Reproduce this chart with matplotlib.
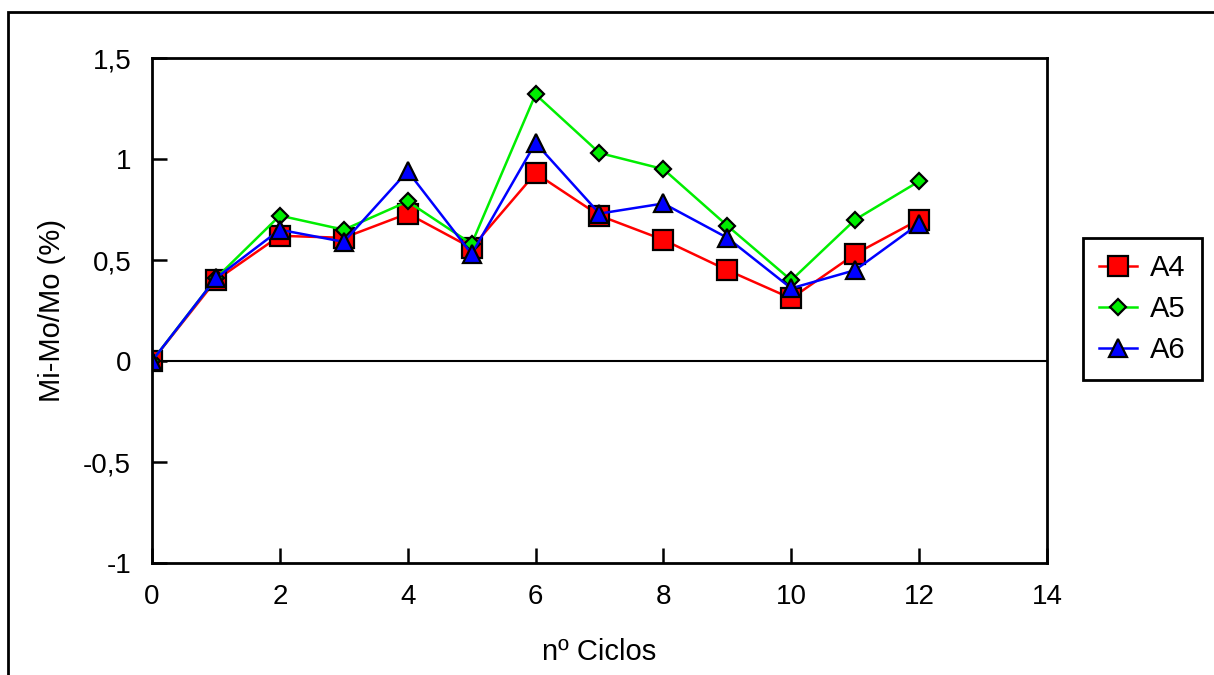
import matplotlib
matplotlib.use("Agg")
import matplotlib.pyplot as plt
from matplotlib.patches import Rectangle

plt.rcParams['font.family'] = ['Liberation Sans', 'DejaVu Sans']

ciclos = [0, 1, 2, 3, 4, 5, 6, 7, 8, 9, 10, 11, 12]
a4 = [0.0, 0.40, 0.62, 0.61, 0.73, 0.56, 0.93, 0.72, 0.60, 0.45, 0.31, 0.53, 0.70]
a5 = [0.0, 0.41, 0.72, 0.65, 0.79, 0.58, 1.32, 1.03, 0.95, 0.67, 0.40, 0.70, 0.89]
a6 = [0.0, 0.41, 0.65, 0.59, 0.94, 0.53, 1.08, 0.73, 0.78, 0.61, 0.36, 0.45, 0.68]

xticks = [0, 2, 4, 6, 8, 10, 12, 14]
yticks = [-1, -0.5, 0, 0.5, 1, 1.5]
ylabels = ['-1', '-0,5', '0', '0,5', '1', '1,5']

fig = plt.figure(figsize=(12.14, 6.75), dpi=100)
ax = fig.add_axes([0.1252, 0.1659, 0.7372, 0.7481])

# outer frame of the original sheet
fig.patches.append(Rectangle((8 / 1214, -0.1), 1.2, 1 - 12 / 675 + 0.1,
                             transform=fig.transFigure, fill=False,
                             edgecolor='black', linewidth=2))

ax.axhline(0, color='black', linewidth=1.5, zorder=1)

ax.plot(ciclos, a4, color='red', linewidth=1.8, marker='s', markersize=14.5,
        markerfacecolor='red', markeredgecolor='black', markeredgewidth=1.6, label='A4')
ax.plot(ciclos, a5, color='#00ee00', linewidth=1.8, marker='D', markersize=8,
        markerfacecolor='#00ee00', markeredgecolor='black', markeredgewidth=1.6, label='A5')
ax.plot(ciclos, a6, color='blue', linewidth=1.8, marker='^', markersize=13,
        markerfacecolor='blue', markeredgecolor='black', markeredgewidth=1.6, label='A6')

ax.set_xlim(0, 14)
ax.set_ylim(-1, 1.5)
ax.set_xticks(xticks)
ax.set_xticklabels([str(t) for t in xticks])
ax.set_yticks(yticks)
ax.set_yticklabels(ylabels)
ax.tick_params(direction='in', length=11, width=1.8, labelsize=20,
               top=False, right=False, pad=15)

for s in ax.spines.values():
    s.set_linewidth(2)

ax.set_xlabel('nº Ciclos', fontsize=21, labelpad=20)
ax.set_ylabel('Mi-Mo/Mo (%)', fontsize=21, labelpad=12)

leg = ax.legend(loc='upper left', bbox_to_anchor=(1083 / 1214, 1 - 238 / 675),
                bbox_transform=fig.transFigure, fontsize=21, numpoints=1,
                handlelength=1.3, handletextpad=0.45, labelspacing=0.45,
                borderpad=0.55, borderaxespad=0, fancybox=False,
                framealpha=1, edgecolor='black')
leg.get_frame().set_linewidth(2)

fig.savefig('out.png', dpi=100)
